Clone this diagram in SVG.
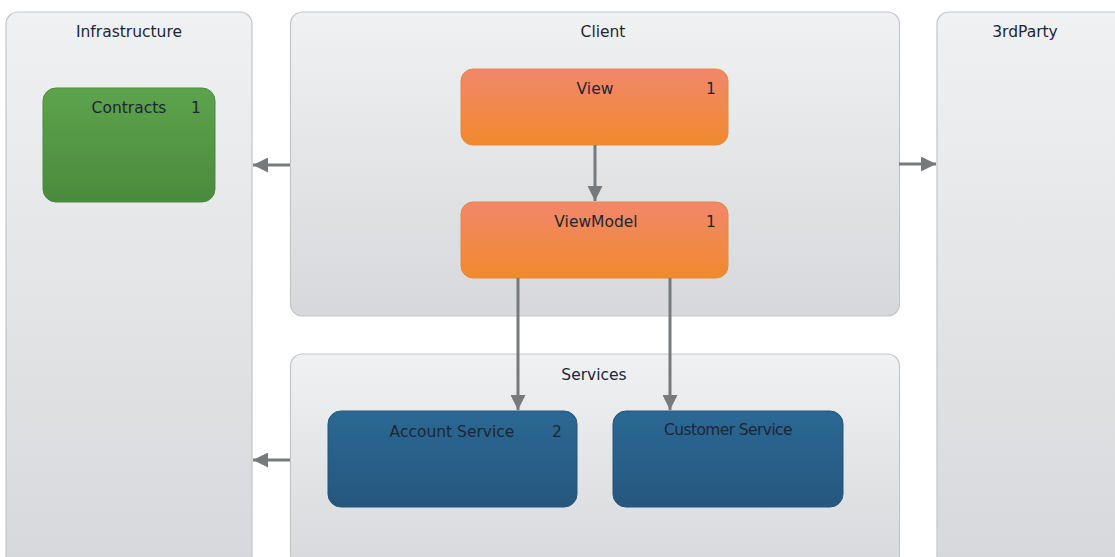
<svg xmlns="http://www.w3.org/2000/svg" width="1115" height="557" viewBox="0 0 1115 557">
<defs>
<linearGradient id="gGrey" x1="0" y1="0" x2="0" y2="1"><stop offset="0" stop-color="#f0f1f2"/><stop offset="1" stop-color="#d6d8db"/></linearGradient>
<linearGradient id="gGreen" x1="0" y1="0" x2="0" y2="1"><stop offset="0" stop-color="#5da34c"/><stop offset="1" stop-color="#4a8a3d"/></linearGradient>
<linearGradient id="gOrange" x1="0" y1="0" x2="0" y2="1"><stop offset="0" stop-color="#f2876c"/><stop offset="1" stop-color="#f08a2c"/></linearGradient>
<linearGradient id="gBlue" x1="0" y1="0" x2="0" y2="1"><stop offset="0" stop-color="#2a6893"/><stop offset="1" stop-color="#26577e"/></linearGradient>
<marker id="ah" viewBox="0 0 10 10" refX="10" refY="5" markerWidth="5" markerHeight="5" markerUnits="strokeWidth" orient="auto"><path d="M0,0 L10,5 L0,10 Z" fill="#777a7d"/></marker>
</defs>
<style>
.grp{fill:url(#gGrey);stroke:#c3c5c8;stroke-width:1.2}
.t{font-family:"DejaVu Sans","Open Sans",sans-serif;font-size:15.5px;fill:#1e2636}
.c{stroke:#777a7d;stroke-width:3;fill:none;marker-end:url(#ah)}
</style>
<rect width="1115" height="557" fill="#ffffff"/>
<g id="infrastructure"><rect class="grp" x="6" y="12" width="246" height="560" rx="12"/><text class="t" x="129" y="37" text-anchor="middle">Infrastructure</text></g>
<g id="client"><rect class="grp" x="290.5" y="12" width="609" height="304" rx="12"/><text class="t" x="603" y="37" text-anchor="middle">Client</text></g>
<g id="thirdparty"><rect class="grp" x="937" y="12" width="200" height="560" rx="12"/><text class="t" x="1025" y="37" text-anchor="middle">3rdParty</text></g>
<g id="services"><rect class="grp" x="290.5" y="354" width="609" height="220" rx="12"/><text class="t" x="594" y="380" text-anchor="middle">Services</text></g>
<g id="contracts"><rect x="43" y="88" width="172" height="114" rx="13" fill="url(#gGreen)" stroke="#4a8a3d"/><text class="t" x="129" y="113" text-anchor="middle">Contracts</text><text class="t" x="196" y="113" text-anchor="middle">1</text></g>
<g id="view"><rect x="461" y="69" width="267" height="76" rx="12" fill="url(#gOrange)" stroke="#e8893c"/><text class="t" x="595" y="94" text-anchor="middle">View</text><text class="t" x="711" y="94" text-anchor="middle">1</text></g>
<g id="viewmodel"><rect x="461" y="202" width="267" height="76" rx="12" fill="url(#gOrange)" stroke="#e8893c"/><text class="t" x="596" y="227" text-anchor="middle">ViewModel</text><text class="t" x="711" y="227" text-anchor="middle">1</text></g>
<g id="account"><rect x="328" y="411" width="249" height="96" rx="13" fill="url(#gBlue)" stroke="#25557b"/><text class="t" x="452" y="437" text-anchor="middle">Account Service</text><text class="t" x="557" y="437" text-anchor="middle">2</text></g>
<g id="customer"><rect x="613" y="411" width="230" height="96" rx="13" fill="url(#gBlue)" stroke="#25557b"/><text class="t" x="728" y="435" text-anchor="middle" letter-spacing="-0.6">Customer Service</text></g>
<g id="connectors">
<path class="c" d="M595,145 V201"/>
<path class="c" d="M518,278 V410"/>
<path class="c" d="M670,278 V410"/>
<path class="c" d="M290,165 H253"/>
<path class="c" d="M290,460 H253"/>
<path class="c" d="M899,164 H936"/>
</g>
</svg>
